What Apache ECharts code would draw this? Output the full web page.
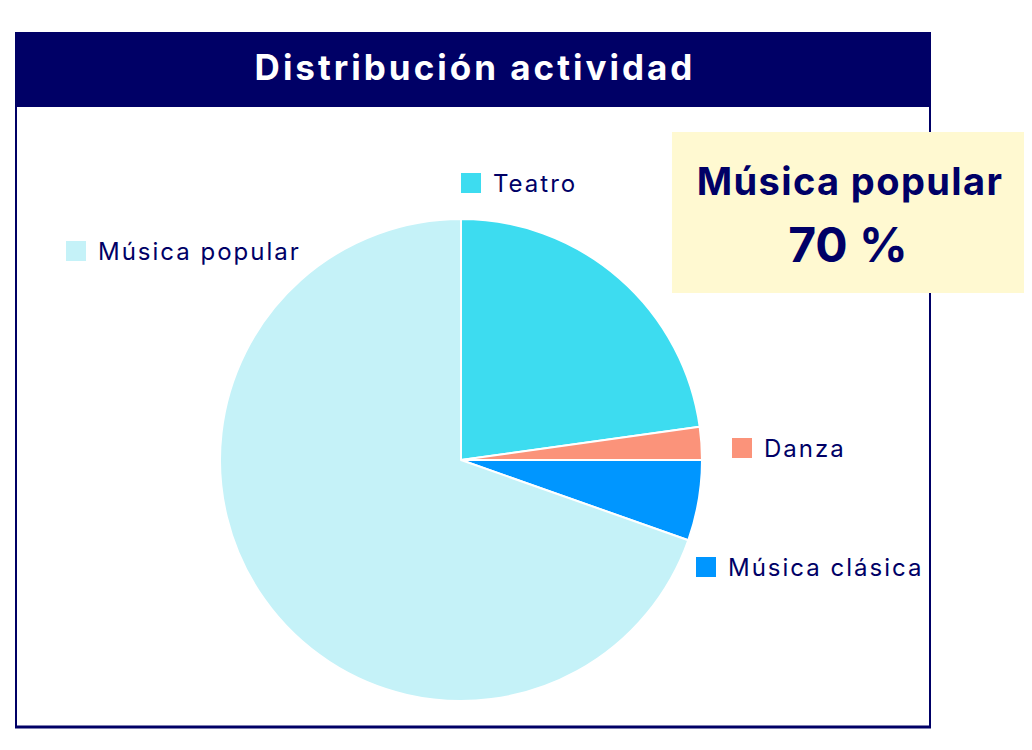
<!DOCTYPE html>
<html>
<head>
<meta charset="utf-8">
<script src="https://cdn.jsdelivr.net/npm/echarts@6/dist/echarts.min.js"></script>
<style>
html,body{margin:0;padding:0;background:#fff;}
#chart{width:1032px;height:750px;}
#chart text[style*="35px"]{letter-spacing:3px;}
#chart text[style*="24px"]{letter-spacing:2px;}
#chart text[style*="38px"]{letter-spacing:1.4px;}
</style>
</head>
<body>
<div id="chart"></div>
<script>
const categories = ['Teatro', 'Danza', 'Música clásica', 'Música popular'];
const values = [22.8, 2.2, 5.4, 69.6];
const colors = ['#3DDCF0', '#FB937A', '#0096FF', '#C5F2F8'];
const titleText = 'Distribución actividad';
const highlightName = 'Música popular';
const highlightValue = '70 %';

const navy = '#000066';
const font = 'Inter';

const chart = echarts.init(document.getElementById('chart'), null, {renderer: 'svg'});

const legendPos = {
  'Teatro': {left: 459, top: 171},
  'Música popular': {left: 64, top: 239},
  'Danza': {left: 730, top: 436},
  'Música clásica': {left: 694, top: 555}
};

const legends = categories.map(function (name) {
  return {
    data: [name],
    left: legendPos[name].left,
    top: legendPos[name].top,
    orient: 'horizontal',
    padding: 0,
    icon: 'rect',
    itemWidth: 22,
    itemHeight: 22,
    selectedMode: false,
    textStyle: {
      color: navy,
      fontFamily: font,
      fontSize: 24,
      padding: [0, 0, 0, 6]
    }
  };
});

chart.setOption({
  animation: false,
  color: colors,
  graphic: [
    {
      type: 'rect',
      shape: {x: 16, y: 33, width: 914, height: 694},
      style: {fill: 'none', stroke: navy, lineWidth: 2},
      z: 1
    },
    {
      type: 'line',
      shape: {x1: 15, y1: 727, x2: 931, y2: 727},
      style: {stroke: navy, lineWidth: 3},
      z: 1
    },
    {
      type: 'rect',
      shape: {x: 15, y: 32, width: 916, height: 75},
      style: {fill: navy},
      z: 2
    },
    {
      type: 'text',
      x: 475,
      y: 67,
      style: {
        text: titleText,
        fill: '#ffffff',
        font: 'bold 35px ' + font,
        textAlign: 'center',
        textVerticalAlign: 'middle'
      },
      z: 3
    },
    {
      type: 'rect',
      shape: {x: 672, y: 132, width: 352, height: 161},
      style: {fill: '#FFF9D1'},
      z: 10
    },
    {
      type: 'text',
      x: 850,
      y: 181,
      style: {
        text: highlightName,
        fill: navy,
        font: 'bold 38px ' + font,
        textAlign: 'center',
        textVerticalAlign: 'middle'
      },
      z: 11
    },
    {
      type: 'text',
      x: 848,
      y: 244,
      style: {
        text: highlightValue,
        fill: navy,
        font: 'bold 48px ' + font,
        textAlign: 'center',
        textVerticalAlign: 'middle'
      },
      z: 11
    }
  ],
  legend: legends,
  series: [{
    type: 'pie',
    center: [461, 460],
    radius: 241,
    startAngle: 90,
    clockwise: true,
    label: {show: false},
    labelLine: {show: false},
    itemStyle: {borderColor: '#ffffff', borderWidth: 2},
    emphasis: {disabled: true},
    data: categories.map(function (c, i) {
      return {name: c, value: values[i], itemStyle: {color: colors[i]}};
    })
  }]
});
</script>
</body>
</html>
